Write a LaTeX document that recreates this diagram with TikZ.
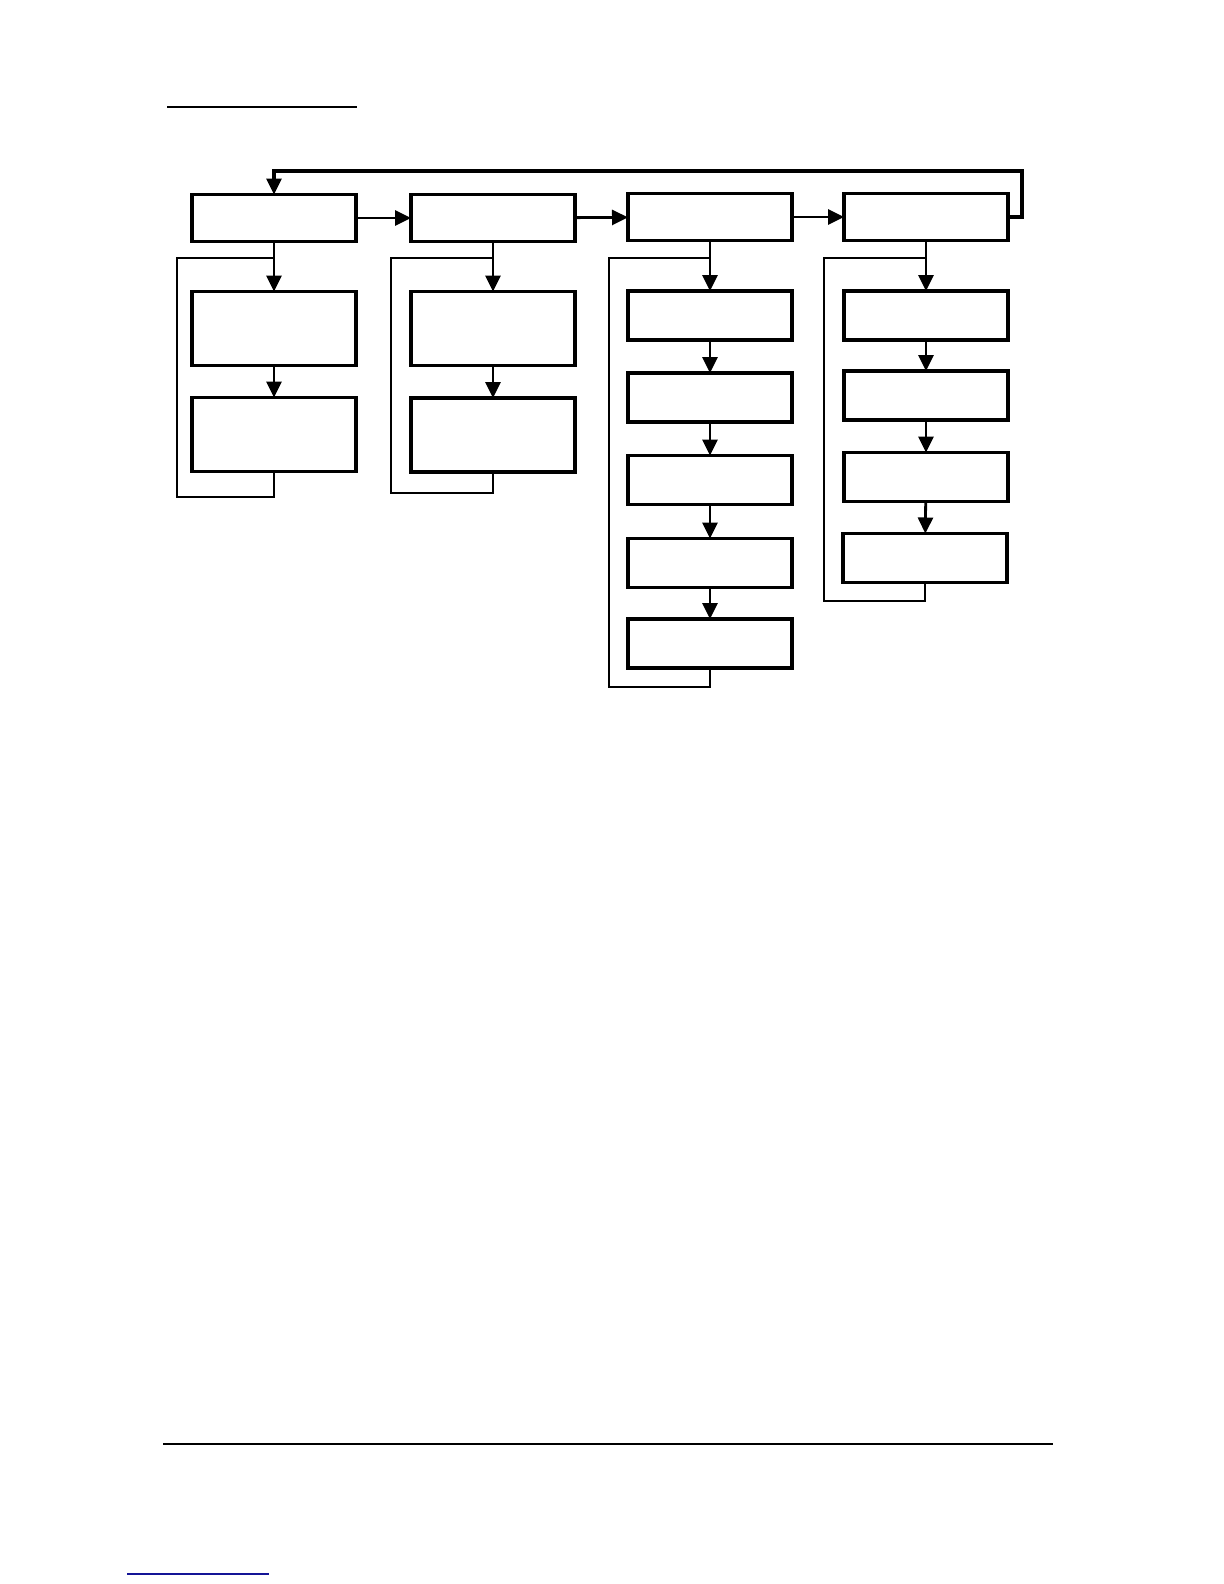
\documentclass[tikz,border=0pt]{standalone}
\usetikzlibrary{arrows.meta}
\begin{document}
\begin{tikzpicture}[x=0.5pt,y=-0.5pt,
  box/.style={draw,line width=1.6pt,minimum width=82pt,inner sep=0pt,outer sep=0pt},
  tall/.style={box,minimum height=37pt},
  short/.style={box,minimum height=24.5pt},
  arr/.style={line width=1.4pt,-{Triangle[length=8pt,width=7.5pt]}},
  loopln/.style={line width=1.3pt},
  rule/.style={line width=0.6pt}]
\useasboundingbox (0,0) rectangle (1224,1584);
\fill[white] (0,0) rectangle (1224,1584);
% rules
\coordinate (t1) at (167,107); \coordinate (t2) at (357,107);
\draw[rule] (t1) -- (t2);
\coordinate (b1) at (163,1444); \coordinate (b2) at (1053,1444);
\draw[line width=0.7pt] (b1) -- (b2);
\coordinate (u1) at (127,1574); \coordinate (u2) at (269,1574);
\draw[line width=0.9pt,color={rgb,255:red,20;green,20;blue,150}] (u1) -- (u2);
% top row
\node[short,minimum height=23.5pt] (a0) at (274,218) {};
\node[short,minimum height=23.5pt] (b0) at (493,218) {};
\node[short,minimum height=23.5pt] (c0) at (710,217) {};
\node[short,minimum height=23.5pt] (d0) at (926,217) {};
\draw[arr] (a0) -- (b0);
\draw[arr] (b0) -- (c0);
\draw[arr] (c0) -- (d0);
\coordinate (fbR) at (1022,171);
\draw[arr,line width=1.6pt] (d0.east) -| (fbR) -| (a0.north);
% column 1
\node[tall] (a1) at (274,328.5) {};
\node[tall] (a2) at (274,434.5) {};
\draw[arr] (a0) -- (a1);
\draw[arr] (a1) -- (a2);
\coordinate (ja) at (274,258); \coordinate (La) at (177,497);
\draw[loopln] (a2.south) |- (La) |- (ja);
% column 2
\node[tall] (b1) at (493,328.5) {};
\node[tall] (b2) at (493,435) {};
\draw[arr] (b0) -- (b1);
\draw[arr] (b1) -- (b2);
\coordinate (jb) at (493,258); \coordinate (Lb) at (391,493);
\draw[loopln] (b2.south) |- (Lb) |- (jb);
% column 3
\node[short] (c1) at (710,315.5) {};
\node[short] (c2) at (710,397.5) {};
\node[short] (c3) at (710,480) {};
\node[short] (c4) at (710,563) {};
\node[short] (c5) at (710,643.5) {};
\draw[arr] (c0) -- (c1);
\draw[arr] (c1) -- (c2);
\draw[arr] (c2) -- (c3);
\draw[arr] (c3) -- (c4);
\draw[arr] (c4) -- (c5);
\coordinate (jc) at (710,258); \coordinate (Lc) at (609,687);
\draw[loopln] (c5.south) |- (Lc) |- (jc);
% column 4
\node[short] (d1) at (926,315.5) {};
\node[short] (d2) at (926,395.5) {};
\node[short] (d3) at (926,477) {};
\node[short] (d4) at (925,558) {};
\draw[arr] (d0) -- (d1);
\draw[arr] (d1) -- (d2);
\draw[arr] (d2) -- (d3);
\draw[arr] (d3) -- (d4);
\coordinate (jd) at (926,258); \coordinate (Ld) at (824,601);
\draw[loopln] (d4.south) |- (Ld) |- (jd);
\end{tikzpicture}
\end{document}
